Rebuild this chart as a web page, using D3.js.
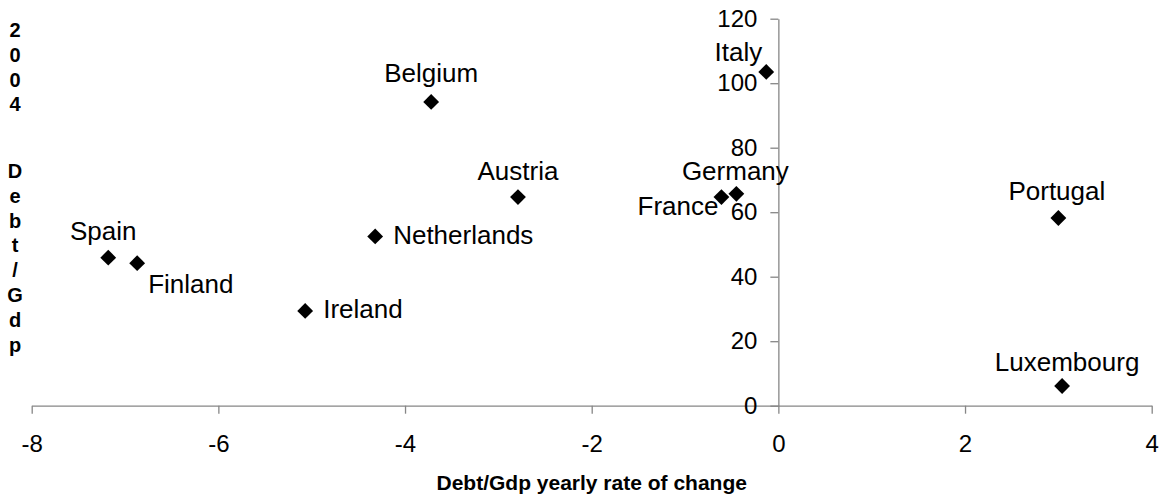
<!DOCTYPE html>
<html>
<head>
<meta charset="utf-8">
<script src="https://cdn.jsdelivr.net/npm/d3@7"></script>
<style>
  html, body { margin: 0; padding: 0; background: #fff; }
  svg { display: block; font-family: "Liberation Sans", Arial, sans-serif; }
</style>
</head>
<body>
<svg id="chart" width="1171" height="499"></svg>
<script>
// ---- data ----
const countries = ["Belgium", "Italy", "Austria", "Germany", "France", "Netherlands",
                   "Spain", "Finland", "Ireland", "Portugal", "Luxembourg"];
const debtRateOfChange = [-3.72, -0.13, -2.79, -0.45, -0.61, -4.32, -7.18, -6.87, -5.07, 3.00, 3.04];
const debt2004 = [94.2, 103.5, 64.7, 65.7, 64.7, 52.5, 45.9, 44.2, 29.4, 58.2, 6.1];
const xTicks = [-8, -6, -4, -2, 0, 2, 4];
const yTicks = [0, 20, 40, 60, 80, 100, 120];
const xTitle = "Debt/Gdp yearly rate of change";
const yTitleLines1 = ["2", "0", "0", "4"];
const yTitleLines2 = ["D", "e", "b", "t", "/", "G", "d", "p"];

// ---- label placement (layout only) ----
const labelLayout = {
  "Belgium":     {anchor: "middle", dx: 0,   dy: -20},
  "Italy":       {anchor: "end",    dx: -4,  dy: -11},
  "Austria":     {anchor: "middle", dx: 0,   dy: -17},
  "Germany":     {anchor: "middle", dx: -1,  dy: -14},
  "France":      {anchor: "end",    dx: -3,  dy: 18},
  "Netherlands": {anchor: "start",  dx: 18,  dy: 8},
  "Spain":       {anchor: "middle", dx: -5,  dy: -18},
  "Finland":     {anchor: "start",  dx: 11,  dy: 30},
  "Ireland":     {anchor: "start",  dx: 18,  dy: 7.5},
  "Portugal":    {anchor: "middle", dx: -1.5,dy: -18},
  "Luxembourg":  {anchor: "middle", dx: 5,   dy: -15}
};

const points = countries.map((c, i) => ({name: c, x: debtRateOfChange[i], y: debt2004[i]}));

const svg = d3.select("#chart");
const axisColor = "#868686";

const x = d3.scaleLinear().domain([-8, 4]).range([31.7, 1151.7]);
const y = d3.scaleLinear().domain([0, 120]).range([405.7, 18.7]);

// x axis (crosses at y = 0)
const xAxis = svg.append("g")
  .attr("transform", `translate(0,${y(0)})`)
  .call(d3.axisBottom(x).tickValues(xTicks).tickFormat(d => String(d))
        .tickSizeInner(8).tickSizeOuter(0).tickPadding(21));
xAxis.select(".domain").attr("stroke", axisColor).attr("stroke-width", 1.3);
xAxis.selectAll(".tick line").attr("stroke", axisColor).attr("stroke-width", 1.3);
xAxis.selectAll(".tick text").attr("fill", "#000").attr("font-size", 24)
  .attr("font-family", "Liberation Sans, Arial, sans-serif");

// y axis (crosses at x = 0)
const yAxis = svg.append("g")
  .attr("transform", `translate(${x(0)},0)`)
  .call(d3.axisLeft(y).tickValues(yTicks).tickFormat(d => String(d))
        .tickSizeInner(8).tickSizeOuter(0).tickPadding(13));
yAxis.select(".domain").attr("stroke", axisColor).attr("stroke-width", 1.3);
yAxis.selectAll(".tick line").attr("stroke", axisColor).attr("stroke-width", 1.3);
yAxis.selectAll(".tick text").attr("fill", "#000").attr("font-size", 24)
  .attr("font-family", "Liberation Sans, Arial, sans-serif");

// markers
const diamond = d3.symbol().type(d3.symbolSquare).size(125);
svg.append("g").selectAll("path")
  .data(points).join("path")
  .attr("d", diamond)
  .attr("transform", d => `translate(${x(d.x)},${y(d.y)}) rotate(45)`)
  .attr("fill", "#000");

// data labels
svg.append("g").selectAll("text")
  .data(points).join("text")
  .attr("x", d => x(d.x) + labelLayout[d.name].dx)
  .attr("y", d => y(d.y) + labelLayout[d.name].dy)
  .attr("text-anchor", d => labelLayout[d.name].anchor)
  .attr("font-size", 26)
  .attr("fill", "#000")
  .text(d => d.name);

// x axis title
svg.append("text")
  .attr("x", (x(-8) + x(4)) / 2)
  .attr("y", 490)
  .attr("text-anchor", "middle")
  .attr("font-size", 21)
  .attr("font-weight", "bold")
  .text(xTitle);

// y axis title: stacked letters
const yt = svg.append("g").attr("font-size", 20).attr("font-weight", "bold").attr("text-anchor", "middle");
yt.selectAll("text.a").data(yTitleLines1).join("text").attr("class", "a")
  .attr("x", 15).attr("y", (d, i) => 30 + i * 24.8)
  .attr("dominant-baseline", "central").text(d => d);
yt.selectAll("text.b").data(yTitleLines2).join("text").attr("class", "b")
  .attr("x", 15).attr("y", (d, i) => 171 + i * 24.8)
  .attr("dominant-baseline", "central").text(d => d);
</script>
</body>
</html>
